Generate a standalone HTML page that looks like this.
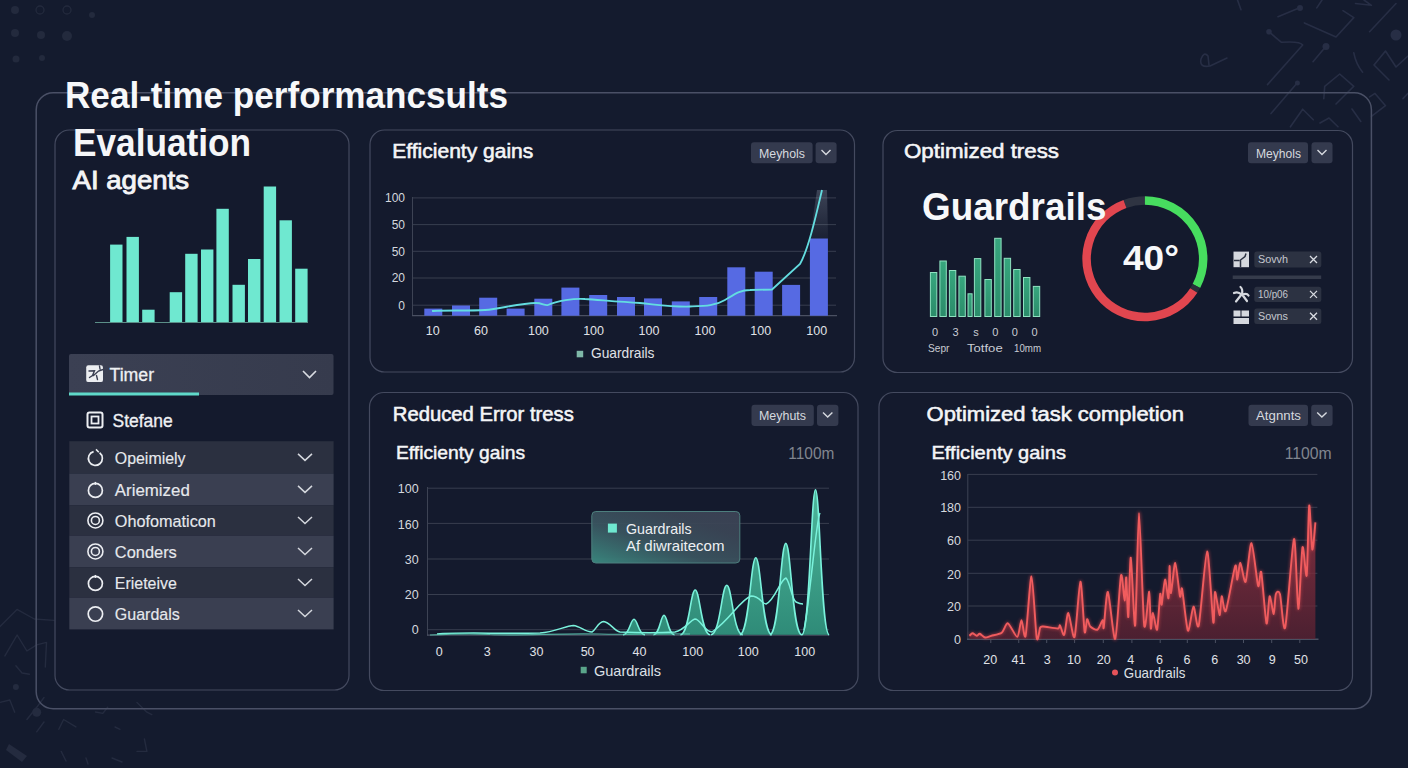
<!DOCTYPE html>
<html><head><meta charset="utf-8"><title>Real-time performance results</title>
<style>
html,body{margin:0;padding:0;background:#141b2e;width:1408px;height:768px;overflow:hidden}
.page{position:relative;width:1408px;height:768px;background:#141b2e}
svg{position:absolute;left:0;top:0;font-family:"Liberation Sans",sans-serif}
</style></head><body><div class="page">
<svg width="1408" height="768" viewBox="0 0 1408 768">
<circle cx="15" cy="10" r="4" fill="#232a3d"/>
<circle cx="40" cy="10" r="4" fill="none" stroke="#232a3d" stroke-width="1.3"/>
<circle cx="67" cy="10" r="4" fill="none" stroke="#232a3d" stroke-width="1.3"/>
<circle cx="92" cy="15" r="3" fill="#232a3d"/>
<circle cx="15" cy="33" r="4" fill="#232a3d"/>
<circle cx="41" cy="35" r="4" fill="#232a3d"/>
<circle cx="67" cy="36" r="5" fill="#232a3d"/>
<circle cx="16" cy="59" r="3.5" fill="#232a3d"/>
<circle cx="42" cy="58" r="3" fill="#232a3d"/>
<path d="M1278 16.7 L1299 8 M1237.5 0 L1241 9.7 M1227 58 L1210 66 Q1199 68 1201 59 Q1204 51 1208 56 L1209 65 M1269 31.7 Q1276 38 1281.5 42.3 Q1300 41 1302.7 45 L1267.5 84.6 M1304.4 22.9 L1336 37 L1353.8 17.6 L1343 10.6 M1325.6 46.7 L1313 61.7 M1396 3.5 L1369.6 31.7 M1353.8 52.8 Q1356 64 1362.6 72.2 M1389 80 L1374 65 L1385.5 51 L1396 67 L1408 56 M1323.8 98.6 L1324.7 86.3 L1339.7 74 L1353.8 86.3 L1336 104 M1297.4 82.8 L1271 113.6 M1290.4 126.8 L1302.7 109.2 L1313.3 119.8 M1320 123 L1329 118 L1338 126.8 M1352 109 L1360.8 121.5 M1369.6 96.9 L1375 93.4 L1385.5 105.7 L1371.4 116.3 M1403 98.6 L1408 93.4 M1355.5 3.5 L1371.4 5.3 L1364 0 M1316.8 7.9 L1322 0" fill="none" stroke="#272e45" stroke-width="1.6" stroke-linecap="round" stroke-linejoin="round"/>
<circle cx="1300" cy="8" r="3" fill="#272e45"/>
<circle cx="1269" cy="31.7" r="2.8" fill="#272e45"/>
<circle cx="1326" cy="46.5" r="3.5" fill="#272e45"/>
<circle cx="1396" cy="35" r="5.5" fill="#272e45"/>
<circle cx="1297.4" cy="83" r="2.5" fill="#272e45"/>
<path d="M0 626.5 L17 609.4 L34.3 619 L53.9 620.4 M4.9 655.9 L17.1 635 L26.9 651 L36.7 644.9 L46.5 642.4 L45.3 667 M15.9 665.7 L22 673 L29.4 674.2 M0 702.4 L9.8 700 L14.7 712.2 M26.9 719.5 L36.7 707.3 L44 697.5 M36.7 731.8 L44 722 M58.8 729.3 L63.6 719.5 L75.9 726.9 M95.5 712 L102.8 713.4 L107.7 707.3 M115 727 L120 729.3 M137 702.4 L146.9 712.2 L151.8 714.6 M144.4 739 L146.9 751.4 L137 751.4 M61.2 751.4 L66 761 M86 758 L88 764 M112 758 L122 762" fill="none" stroke="#242b3f" stroke-width="1.4" stroke-linecap="round" stroke-linejoin="round"/>
<circle cx="15.9" cy="687" r="3" fill="#242b3f"/>
<circle cx="36.7" cy="712.2" r="4.5" fill="#242b3f"/>
<path d="M9 744 L27 756 L22 762 L6 750 Z" fill="#242b3f"/>
<rect x="36.2" y="92.8" width="1335.2" height="616" rx="17" fill="none" stroke="#4a5066" stroke-width="1.5"/>
<rect x="55" y="130" width="294" height="560" rx="14.5" fill="#141a2d" stroke="#444a5f" stroke-width="1.2"/>
<rect x="370" y="130" width="484.5" height="242" rx="14.5" fill="#141a2d" stroke="#444a5f" stroke-width="1.2"/>
<rect x="883" y="130.5" width="469.5" height="242.0" rx="14.5" fill="#141a2d" stroke="#444a5f" stroke-width="1.2"/>
<rect x="369.5" y="392.5" width="488.5" height="298.0" rx="14.5" fill="#141a2d" stroke="#444a5f" stroke-width="1.2"/>
<rect x="879" y="392.5" width="473.5" height="298.0" rx="14.5" fill="#141a2d" stroke="#444a5f" stroke-width="1.2"/>
<text x="65" y="107.5" font-size="37.5" font-weight="bold" fill="#f7f8fa" text-anchor="start" textLength="443" lengthAdjust="spacingAndGlyphs" >Real-time performancsults</text>
<text x="73" y="155.5" font-size="38" font-weight="bold" fill="#f5f6f8" text-anchor="start" textLength="178" lengthAdjust="spacingAndGlyphs" >Evaluation</text>
<text x="72.5" y="189" font-size="26.5" font-weight="normal" fill="#f3f4f6" text-anchor="start" textLength="116.5" lengthAdjust="spacingAndGlyphs" stroke="#f3f4f6" stroke-width="0.9">AI agents</text>
<line x1="95" y1="322.5" x2="308" y2="322.5" stroke="#5b8f88" stroke-width="1"/>
<rect x="110.1" y="244.6" width="12.4" height="77.4" fill="#6fe8d0"/>
<rect x="126.5" y="236.9" width="12.4" height="85.1" fill="#6fe8d0"/>
<rect x="142.2" y="309.7" width="12.4" height="12.300000000000011" fill="#6fe8d0"/>
<rect x="169.7" y="292.2" width="12.4" height="29.80000000000001" fill="#6fe8d0"/>
<rect x="185.2" y="253.8" width="12.4" height="68.19999999999999" fill="#6fe8d0"/>
<rect x="201" y="249.5" width="12.4" height="72.5" fill="#6fe8d0"/>
<rect x="216.4" y="208.8" width="12.4" height="113.19999999999999" fill="#6fe8d0"/>
<rect x="232.5" y="284.8" width="12.4" height="37.19999999999999" fill="#6fe8d0"/>
<rect x="248" y="259" width="12.4" height="63" fill="#6fe8d0"/>
<rect x="263.7" y="186.5" width="12.4" height="135.5" fill="#6fe8d0"/>
<rect x="279.5" y="220.3" width="12.4" height="101.69999999999999" fill="#6fe8d0"/>
<rect x="295.2" y="268.7" width="12.4" height="53.30000000000001" fill="#6fe8d0"/>
<defs><linearGradient id="tg" x1="0" x2="1"><stop offset="0" stop-color="#3b4053"/><stop offset="1" stop-color="#363b4d"/></linearGradient></defs>
<rect x="69" y="354" width="264.5" height="41" rx="2" fill="url(#tg)"/>
<rect x="69" y="392.5" width="130" height="3" fill="#5fd9c9"/>
<rect x="86.2" y="365.3" width="16.8" height="16.8" rx="2.2" fill="#eceef1"/><path d="M89 371 L94.5 370.8 L92.5 375.5 L89.5 377.5 M93.5 375.5 L98.5 371 L103 369.5 M96.5 375.5 L97.5 379.5 M99.5 366 L100 369" stroke="#3a3f52" stroke-width="1.4" fill="none" stroke-linecap="round"/>
<text x="109.5" y="380.5" font-size="17.5" font-weight="normal" fill="#eef0f3" text-anchor="start" textLength="44.6" lengthAdjust="spacingAndGlyphs" stroke="#eef0f3" stroke-width="0.3">Timer</text>
<path d="M303 371 L309.5 377.5 L316 371" fill="none" stroke="#d9dce2" stroke-width="1.6"/>
<rect x="87.5" y="412.5" width="15" height="15" rx="2" fill="none" stroke="#eceef2" stroke-width="2"/><rect x="91.5" y="416.5" width="7" height="7" fill="none" stroke="#eceef2" stroke-width="1.8"/>
<text x="112.5" y="427" font-size="18.5" font-weight="normal" fill="#eef0f3" text-anchor="start" textLength="60.2" lengthAdjust="spacingAndGlyphs" stroke="#eef0f3" stroke-width="0.35">Stefane</text>
<rect x="69.3" y="441.2" width="264.3" height="32.400000000000034" fill="#2b3040"/>
<path d="M99.6 452.79999999999995 A7 7 0 1 1 93.6 451.59999999999997" fill="none" stroke="#eceef2" stroke-width="1.7"/><path d="M96 449.4 L98.8 452.2" stroke="#eceef2" stroke-width="1.5"/>
<text x="114.8" y="463.7" font-size="17" font-weight="normal" fill="#e6e8ec" text-anchor="start" textLength="70.7" lengthAdjust="spacingAndGlyphs" stroke="#e6e8ec" stroke-width="0.15">Opeimiely</text>
<path d="M298 453.9 L305 460.4 L312 453.9" fill="none" stroke="#d4d7dd" stroke-width="1.5"/>
<rect x="69.3" y="473.6" width="264.3" height="31.599999999999966" fill="#3a3f51"/>
<circle cx="95.4" cy="490.4" r="7" fill="none" stroke="#eceef2" stroke-width="1.7"/><path d="M95.4 481.9 L95.4 484.9" stroke="#eceef2" stroke-width="1.5"/>
<text x="114.8" y="495.7" font-size="17" font-weight="normal" fill="#e6e8ec" text-anchor="start" textLength="75" lengthAdjust="spacingAndGlyphs" stroke="#e6e8ec" stroke-width="0.15">Ariemized</text>
<path d="M298 485.9 L305 492.4 L312 485.9" fill="none" stroke="#d4d7dd" stroke-width="1.5"/>
<rect x="69.3" y="505.2" width="264.3" height="30.500000000000057" fill="#2b3040"/>
<circle cx="95.4" cy="520.45" r="7.5" fill="none" stroke="#eceef2" stroke-width="1.6"/><circle cx="95.4" cy="520.45" r="4" fill="none" stroke="#eceef2" stroke-width="1.6"/>
<text x="114.8" y="526.75" font-size="17" font-weight="normal" fill="#e6e8ec" text-anchor="start" textLength="101" lengthAdjust="spacingAndGlyphs" stroke="#e6e8ec" stroke-width="0.15">Ohofomaticon</text>
<path d="M298 516.95 L305 523.45 L312 516.95" fill="none" stroke="#d4d7dd" stroke-width="1.5"/>
<rect x="69.3" y="535.7" width="264.3" height="31.5" fill="#3a3f51"/>
<circle cx="95.4" cy="551.45" r="7.5" fill="none" stroke="#eceef2" stroke-width="1.6"/><circle cx="95.4" cy="551.45" r="4" fill="none" stroke="#eceef2" stroke-width="1.6"/>
<text x="114.8" y="557.75" font-size="17" font-weight="normal" fill="#e6e8ec" text-anchor="start" textLength="62" lengthAdjust="spacingAndGlyphs" stroke="#e6e8ec" stroke-width="0.15">Conders</text>
<path d="M298 547.95 L305 554.45 L312 547.95" fill="none" stroke="#d4d7dd" stroke-width="1.5"/>
<rect x="69.3" y="567.2" width="264.3" height="30.5" fill="#2b3040"/>
<circle cx="95.4" cy="583.45" r="7" fill="none" stroke="#eceef2" stroke-width="1.7"/><path d="M95.4 574.95 L95.4 577.95" stroke="#eceef2" stroke-width="1.5"/>
<text x="114.8" y="588.75" font-size="17" font-weight="normal" fill="#e6e8ec" text-anchor="start" textLength="62" lengthAdjust="spacingAndGlyphs" stroke="#e6e8ec" stroke-width="0.15">Erieteive</text>
<path d="M298 578.95 L305 585.45 L312 578.95" fill="none" stroke="#d4d7dd" stroke-width="1.5"/>
<rect x="69.3" y="597.7" width="264.3" height="31.699999999999932" fill="#3a3f51"/>
<circle cx="95.4" cy="614.05" r="7.2" fill="none" stroke="#eceef2" stroke-width="1.7"/>
<text x="114.8" y="619.8499999999999" font-size="17" font-weight="normal" fill="#e6e8ec" text-anchor="start" textLength="65" lengthAdjust="spacingAndGlyphs" stroke="#e6e8ec" stroke-width="0.15">Guardals</text>
<path d="M298 610.05 L305 616.55 L312 610.05" fill="none" stroke="#d4d7dd" stroke-width="1.5"/>
<text x="392.3" y="157.8" font-size="19.5" font-weight="normal" fill="#f4f5f7" text-anchor="start" textLength="141" lengthAdjust="spacingAndGlyphs" stroke="#f4f5f7" stroke-width="0.55">Efficienty gains</text>
<rect x="751" y="142.3" width="61.6" height="21" rx="3" fill="#343a4e"/><rect x="815.6" y="142.3" width="21" height="21" rx="3" fill="#343a4e"/>
<text x="759" y="157.5" font-size="12.5" fill="#d6d9df" textLength="46" lengthAdjust="spacingAndGlyphs">Meyhols</text>
<path d="M821.5 150 L826 154.5 L830.5 150" fill="none" stroke="#d6d9df" stroke-width="1.4"/>
<line x1="412.5" y1="197.9" x2="836" y2="197.9" stroke="#383e4f" stroke-width="1"/>
<line x1="412.5" y1="224.6" x2="836" y2="224.6" stroke="#383e4f" stroke-width="1"/>
<line x1="412.5" y1="251.3" x2="836" y2="251.3" stroke="#383e4f" stroke-width="1"/>
<line x1="412.5" y1="278" x2="836" y2="278" stroke="#383e4f" stroke-width="1"/>
<line x1="412.5" y1="305.2" x2="836" y2="305.2" stroke="#383e4f" stroke-width="1"/>
<line x1="412.5" y1="197" x2="412.5" y2="316" stroke="#3d4354" stroke-width="1"/><line x1="412" y1="315.7" x2="837" y2="315.7" stroke="#4a5062" stroke-width="1.2"/>
<text x="405" y="202.20000000000002" font-size="12" fill="#d5d8de" text-anchor="end">100</text>
<text x="405" y="228.9" font-size="12" fill="#d5d8de" text-anchor="end">50</text>
<text x="405" y="255.60000000000002" font-size="12" fill="#d5d8de" text-anchor="end">50</text>
<text x="405" y="282.3" font-size="12" fill="#d5d8de" text-anchor="end">20</text>
<text x="405" y="309.5" font-size="12" fill="#d5d8de" text-anchor="end">0</text>
<rect x="424.3" y="308.6" width="18" height="7.099999999999966" fill="#566ae3"/>
<rect x="452" y="305.5" width="18" height="10.199999999999989" fill="#566ae3"/>
<rect x="479.2" y="297.7" width="18" height="18.0" fill="#566ae3"/>
<rect x="506.6" y="308.6" width="18" height="7.099999999999966" fill="#566ae3"/>
<rect x="534.3" y="298.7" width="18" height="17.0" fill="#566ae3"/>
<rect x="561.4" y="287.6" width="18" height="28.099999999999966" fill="#566ae3"/>
<rect x="589.2" y="295" width="18" height="20.69999999999999" fill="#566ae3"/>
<rect x="617" y="297" width="18" height="18.69999999999999" fill="#566ae3"/>
<rect x="644" y="298.4" width="18" height="17.30000000000001" fill="#566ae3"/>
<rect x="671.8" y="301.4" width="18" height="14.300000000000011" fill="#566ae3"/>
<rect x="699.2" y="297" width="18" height="18.69999999999999" fill="#566ae3"/>
<rect x="727.3" y="267.3" width="18" height="48.39999999999998" fill="#566ae3"/>
<rect x="754.7" y="271.7" width="18" height="44.0" fill="#566ae3"/>
<rect x="782.1" y="284.9" width="18" height="30.80000000000001" fill="#566ae3"/>
<rect x="809.9" y="238.5" width="18" height="77.19999999999999" fill="#566ae3"/>
<defs><linearGradient id="glw" x1="0" y1="0" x2="0" y2="1"><stop offset="0" stop-color="#9aa3b5" stop-opacity="0.30"/><stop offset="1" stop-color="#9aa3b5" stop-opacity="0.05"/></linearGradient></defs>
<polygon points="817,190 827,190 828,238.5 810,238.5" fill="url(#glw)"/>
<path d="M432 311 C440 310 470 311 485 310 C500 309 520 303 536 303 C542 303 545 306 548 305 C556 301 575 298 585 299 C600 300 620 302 640 303 C660 305 672 307 690 306.5 C705 306 715 306 725 300 C735 294 740 290 750 290 L772 289.5 L800 264 C808 250 815 220 822 190" fill="none" stroke="#63dde0" stroke-width="1.8"/>
<text x="432.8" y="335.3" font-size="12.5" fill="#e0e2e7" text-anchor="middle">10</text>
<text x="480.9" y="335.3" font-size="12.5" fill="#e0e2e7" text-anchor="middle">60</text>
<text x="538.4" y="335.3" font-size="12.5" fill="#e0e2e7" text-anchor="middle">100</text>
<text x="593.6" y="335.3" font-size="12.5" fill="#e0e2e7" text-anchor="middle">100</text>
<text x="649" y="335.3" font-size="12.5" fill="#e0e2e7" text-anchor="middle">100</text>
<text x="705" y="335.3" font-size="12.5" fill="#e0e2e7" text-anchor="middle">100</text>
<text x="760.8" y="335.3" font-size="12.5" fill="#e0e2e7" text-anchor="middle">100</text>
<text x="816.7" y="335.3" font-size="12.5" fill="#e0e2e7" text-anchor="middle">100</text>
<rect x="576.7" y="350.8" width="6.5" height="6.5" fill="#7fb8a8"/>
<text x="591" y="358.3" font-size="14.3" font-weight="normal" fill="#e0e2e7" text-anchor="start" textLength="63.5" lengthAdjust="spacingAndGlyphs" >Guardrails</text>
<text x="904" y="158" font-size="19.5" font-weight="normal" fill="#f4f5f7" text-anchor="start" textLength="155" lengthAdjust="spacingAndGlyphs" stroke="#f4f5f7" stroke-width="0.55">Optimized tress</text>
<rect x="1248" y="142.3" width="60" height="21" rx="3" fill="#343a4e"/><rect x="1311.5" y="142.3" width="21" height="21" rx="3" fill="#343a4e"/>
<text x="1256" y="157.5" font-size="12.5" fill="#d6d9df" textLength="45" lengthAdjust="spacingAndGlyphs">Meyhols</text>
<path d="M1317.5 150 L1322 154.5 L1326.5 150" fill="none" stroke="#d6d9df" stroke-width="1.4"/>
<defs><linearGradient id="gg" x1="0" y1="0" x2="0" y2="1"><stop offset="0" stop-color="#37a67e"/><stop offset="1" stop-color="#2b8c6a"/></linearGradient></defs>
<rect x="930.4" y="272.5" width="6.4" height="44" fill="url(#gg)" stroke="#8fe2c0" stroke-width="1"/>
<rect x="939.9" y="261.0" width="6.4" height="55.5" fill="url(#gg)" stroke="#8fe2c0" stroke-width="1"/>
<rect x="949.4" y="270.5" width="6.4" height="46" fill="url(#gg)" stroke="#8fe2c0" stroke-width="1"/>
<rect x="958.9" y="276.2" width="6.4" height="40.30000000000001" fill="url(#gg)" stroke="#8fe2c0" stroke-width="1"/>
<rect x="968.0" y="293.8" width="4.1" height="22.69999999999999" fill="url(#gg)" stroke="#8fe2c0" stroke-width="1"/>
<rect x="974.4" y="258.6" width="6.4" height="57.89999999999998" fill="url(#gg)" stroke="#8fe2c0" stroke-width="1"/>
<rect x="984.9" y="279.5" width="6.4" height="37" fill="url(#gg)" stroke="#8fe2c0" stroke-width="1"/>
<rect x="994.7" y="238.3" width="6.4" height="78.19999999999999" fill="url(#gg)" stroke="#8fe2c0" stroke-width="1"/>
<rect x="1004.2" y="258.3" width="6.4" height="58.19999999999999" fill="url(#gg)" stroke="#8fe2c0" stroke-width="1"/>
<rect x="1013.7" y="269.5" width="6.4" height="47" fill="url(#gg)" stroke="#8fe2c0" stroke-width="1"/>
<rect x="1023.5" y="277.5" width="6.4" height="39" fill="url(#gg)" stroke="#8fe2c0" stroke-width="1"/>
<rect x="1033.3" y="286.4" width="6.4" height="30.100000000000023" fill="url(#gg)" stroke="#8fe2c0" stroke-width="1"/>
<text x="935" y="335.5" font-size="11" fill="#c9ccd3" text-anchor="middle">0</text>
<text x="955.6" y="335.5" font-size="11" fill="#c9ccd3" text-anchor="middle">3</text>
<text x="976" y="335.5" font-size="11" fill="#c9ccd3" text-anchor="middle">s</text>
<text x="995.3" y="335.5" font-size="11" fill="#c9ccd3" text-anchor="middle">0</text>
<text x="1014.9" y="335.5" font-size="11" fill="#c9ccd3" text-anchor="middle">0</text>
<text x="1034.5" y="335.5" font-size="11" fill="#c9ccd3" text-anchor="middle">0</text>
<text x="928" y="352" font-size="11.5" fill="#c9ccd3" textLength="21.5" lengthAdjust="spacingAndGlyphs">Sepr</text>
<text x="967" y="352" font-size="11.5" fill="#c9ccd3" textLength="35.7" lengthAdjust="spacingAndGlyphs">Totfoe</text>
<text x="1014" y="352" font-size="11.5" fill="#c9ccd3" textLength="27" lengthAdjust="spacingAndGlyphs">10mm</text>
<path d="M1124.96 203.92 A58.3 58.3 0 0 1 1144.90 200.40" fill="none" stroke="#2f3442" stroke-width="8.5"/>
<path d="M1144.90 200.40 A58.3 58.3 0 0 1 1196.38 286.07" fill="none" stroke="#47dd5f" stroke-width="8.5"/>
<path d="M1196.38 286.07 A58.3 58.3 0 0 1 1193.79 290.45" fill="none" stroke="#2a2f3a" stroke-width="8.5"/>
<path d="M1193.79 290.45 A58.3 58.3 0 1 1 1124.96 203.92" fill="none" stroke="#e1464f" stroke-width="8.5"/>
<text x="922" y="219.5" font-size="38.3" font-weight="bold" fill="#f7f8fa" text-anchor="start" textLength="184.5" lengthAdjust="spacingAndGlyphs" >Guardrails</text>
<text x="1123" y="270" font-size="35.5" font-weight="bold" fill="#f7f8fa" text-anchor="start" textLength="56" lengthAdjust="spacingAndGlyphs" >40°</text>
<rect x="1254.3" y="251.6" width="67" height="15.900000000000006" rx="2.5" fill="#2c3242"/>
<text x="1258" y="263.3" font-size="11" fill="#c5c8cf" textLength="30" lengthAdjust="spacingAndGlyphs">Sovvh</text>
<path d="M1310.0 256.05 L1317.0 263.05 M1317.0 256.05 L1310.0 263.05" stroke="#d9dce2" stroke-width="1.3"/>
<rect x="1254.3" y="286.7" width="67" height="15.300000000000011" rx="2.5" fill="#2c3242"/>
<text x="1258" y="297.8" font-size="11" fill="#c5c8cf" textLength="30" lengthAdjust="spacingAndGlyphs">10/p06</text>
<path d="M1310.0 290.85 L1317.0 297.85 M1317.0 290.85 L1310.0 297.85" stroke="#d9dce2" stroke-width="1.3"/>
<rect x="1254.3" y="308.4" width="67" height="15.600000000000023" rx="2.5" fill="#2c3242"/>
<text x="1258" y="319.8" font-size="11" fill="#c5c8cf" textLength="30" lengthAdjust="spacingAndGlyphs">Sovns</text>
<path d="M1310.0 312.7 L1317.0 319.7 M1317.0 312.7 L1310.0 319.7" stroke="#d9dce2" stroke-width="1.3"/>
<rect x="1232.7" y="275.5" width="88.5" height="3.5" fill="#353b4b"/>
<g fill="#d5d8de"><rect x="1233.5" y="251.6" width="15.5" height="15.6"/></g><path d="M1234 260.5 L1239.5 260.5 M1240.5 267 L1240.5 260 L1245 256.5 L1246 253.5" stroke="#2c3242" stroke-width="1.5" fill="none"/>
<path d="M1234 293 Q1238 291 1241.5 294.5 M1242 294 Q1243 289 1240.5 287 M1242.5 294.5 Q1247 293 1248.5 295.5 M1241.5 294.5 L1236 301.5 M1242.5 295 L1247 301" stroke="#d5d8de" stroke-width="2.2" fill="none" stroke-linecap="round"/>
<g fill="#d5d8de"><rect x="1233.5" y="310.5" width="7" height="6"/><rect x="1241.5" y="310.5" width="7.5" height="6"/><rect x="1233.5" y="318" width="15.5" height="6"/></g>
<text x="392.8" y="420.5" font-size="20" font-weight="normal" fill="#f4f5f7" text-anchor="start" textLength="181" lengthAdjust="spacingAndGlyphs" stroke="#f4f5f7" stroke-width="0.55">Reduced Error tress</text>
<rect x="751.5" y="404.7" width="62.3" height="21.3" rx="3" fill="#343a4e"/><rect x="817" y="404.7" width="21.4" height="21.3" rx="3" fill="#343a4e"/>
<text x="759" y="420" font-size="12.5" fill="#d6d9df" textLength="47" lengthAdjust="spacingAndGlyphs">Meyhuts</text>
<path d="M823 412.5 L827.7 417 L832.4 412.5" fill="none" stroke="#d6d9df" stroke-width="1.4"/>
<text x="396" y="458.8" font-size="18.5" font-weight="normal" fill="#f4f5f7" text-anchor="start" textLength="129" lengthAdjust="spacingAndGlyphs" stroke="#f4f5f7" stroke-width="0.45">Efficienty gains</text>
<text x="834.3" y="458.6" font-size="17" font-weight="normal" fill="#80858f" text-anchor="end" textLength="46" lengthAdjust="spacingAndGlyphs" >1100m</text>
<line x1="427.5" y1="488.2" x2="829" y2="488.2" stroke="#383e4f" stroke-width="1"/>
<line x1="427.5" y1="523.4" x2="829" y2="523.4" stroke="#383e4f" stroke-width="1"/>
<line x1="427.5" y1="559" x2="829" y2="559" stroke="#383e4f" stroke-width="1"/>
<line x1="427.5" y1="594.5" x2="829" y2="594.5" stroke="#383e4f" stroke-width="1"/>
<line x1="427.5" y1="629.7" x2="829" y2="629.7" stroke="#383e4f" stroke-width="1"/>
<line x1="427.5" y1="487" x2="427.5" y2="635.5" stroke="#3d4354" stroke-width="1"/><line x1="427" y1="635.2" x2="829" y2="635.2" stroke="#4a5062" stroke-width="1.2"/>
<text x="418.7" y="493.1" font-size="12.5" fill="#d5d8de" text-anchor="end">100</text>
<text x="418.7" y="528.8" font-size="12.5" fill="#d5d8de" text-anchor="end">160</text>
<text x="418.7" y="563.5999999999999" font-size="12.5" fill="#d5d8de" text-anchor="end">30</text>
<text x="418.7" y="599.3" font-size="12.5" fill="#d5d8de" text-anchor="end">20</text>
<text x="418.7" y="634.1999999999999" font-size="12.5" fill="#d5d8de" text-anchor="end">0</text>
<defs><linearGradient id="tl" x1="0" y1="0" x2="0" y2="1"><stop offset="0" stop-color="#4db79b"/><stop offset="1" stop-color="#2f8b78"/></linearGradient></defs>
<path d="M623.0 634.7 C629.5 634.7 630.5 619.2 634.0 619.2 C637.5 619.2 638.5 634.7 645.0 634.7 Z M653.5 634.7 C659.7 634.7 660.7 615.3 664.0 615.3 C667.3 615.3 668.3 634.7 674.5 634.7 Z M680.4 634.7 C689.1 634.7 690.5 590.0 695.2 590.0 C699.9 590.0 701.3 634.7 710.1 634.7 Z M710.8 634.7 C720.3 634.7 721.7 585.3 726.8 585.3 C731.9 585.3 733.3 634.7 742.8 634.7 Z M739.8 634.7 C749.3 634.7 750.7 557.8 755.8 557.8 C760.9 557.8 762.3 634.7 771.8 634.7 Z M769.8 634.7 C779.3 634.7 780.7 543.4 785.8 543.4 C790.9 543.4 792.3 634.7 801.8 634.7 Z M801.8 634.7 C809.9 634.7 811.1 489.7 815.5 489.7 C819.9 489.7 821.1 634.7 829.2 634.7 Z " fill="url(#tl)"/>
<path d="M623.0 634.7 C629.5 634.7 630.5 619.2 634.0 619.2 C637.5 619.2 638.5 634.7 645.0 634.7 M653.5 634.7 C659.7 634.7 660.7 615.3 664.0 615.3 C667.3 615.3 668.3 634.7 674.5 634.7 M680.4 634.7 C689.1 634.7 690.5 590.0 695.2 590.0 C699.9 590.0 701.3 634.7 710.1 634.7 M710.8 634.7 C720.3 634.7 721.7 585.3 726.8 585.3 C731.9 585.3 733.3 634.7 742.8 634.7 M739.8 634.7 C749.3 634.7 750.7 557.8 755.8 557.8 C760.9 557.8 762.3 634.7 771.8 634.7 M769.8 634.7 C779.3 634.7 780.7 543.4 785.8 543.4 C790.9 543.4 792.3 634.7 801.8 634.7 M801.8 634.7 C809.9 634.7 811.1 489.7 815.5 489.7 C819.9 489.7 821.1 634.7 829.2 634.7 " fill="none" stroke="#7af2dc" stroke-width="1.6"/>
<path d="M437 634 C460 632 500 634 540 633 C555 632 565 626 573.5 625.5 C580 626 585 632 592 632 C596 630 598 622 603.5 621.5 C610 622 614 631 620 632 C640 633 660 633 675 632 C685 630 690 620 695 619 C700 619 705 632 712 632 C730 620 740 600 751 596 C760 596 762 604 766 604 C775 600 780 580 786 578 C790 582 792 600 796 602 C800 604 802 604 803 604 M804 630 C810 600 816 520 820 513" fill="none" stroke="#7af2dc" stroke-width="1.5"/>
<path d="M430 635 C450 634 470 633 490 634.5 C520 636 560 633 600 634 C630 635 660 633 690 634" fill="none" stroke="#5fcfb8" stroke-width="1.2" opacity="0.8"/>
<text x="439.2" y="656" font-size="12.5" fill="#e0e2e7" text-anchor="middle">0</text>
<text x="487.2" y="656" font-size="12.5" fill="#e0e2e7" text-anchor="middle">3</text>
<text x="536.4" y="656" font-size="12.5" fill="#e0e2e7" text-anchor="middle">30</text>
<text x="587.6" y="656" font-size="12.5" fill="#e0e2e7" text-anchor="middle">50</text>
<text x="639.5" y="656" font-size="12.5" fill="#e0e2e7" text-anchor="middle">40</text>
<text x="692.8" y="656" font-size="12.5" fill="#e0e2e7" text-anchor="middle">100</text>
<text x="748.2" y="656" font-size="12.5" fill="#e0e2e7" text-anchor="middle">100</text>
<text x="804.8" y="656" font-size="12.5" fill="#e0e2e7" text-anchor="middle">100</text>
<rect x="580.7" y="666.8" width="6" height="6.5" fill="#5aa58a"/>
<text x="594" y="675.5" font-size="14.5" font-weight="normal" fill="#dde0e5" text-anchor="start" textLength="67" lengthAdjust="spacingAndGlyphs" >Guardrails</text>
<defs><linearGradient id="tt" x1="0" y1="1" x2="1" y2="0"><stop offset="0" stop-color="#3a8a80" stop-opacity="0.95"/><stop offset="0.4" stop-color="#3a5560" stop-opacity="0.93"/><stop offset="0.75" stop-color="#3b4656" stop-opacity="0.93"/><stop offset="1" stop-color="#3c4255" stop-opacity="0.95"/></linearGradient></defs>
<rect x="591.8" y="511.5" width="148" height="51.5" rx="4" fill="url(#tt)" stroke="#4d7f7e" stroke-width="1"/>
<rect x="607.9" y="523.6" width="9" height="9" fill="#6fe8d0"/>
<text x="626" y="533.5" font-size="14.5" font-weight="normal" fill="#eef0f3" text-anchor="start" textLength="65.6" lengthAdjust="spacingAndGlyphs" >Guardrails</text>
<text x="626" y="551" font-size="14.5" font-weight="normal" fill="#eef0f3" text-anchor="start" textLength="98.4" lengthAdjust="spacingAndGlyphs" >Af diwraitecom</text>
<text x="926.6" y="420.5" font-size="20" font-weight="normal" fill="#f4f5f7" text-anchor="start" textLength="257.4" lengthAdjust="spacingAndGlyphs" stroke="#f4f5f7" stroke-width="0.55">Optimized task completion</text>
<rect x="1248.5" y="404.7" width="59.5" height="21.3" rx="3" fill="#343a4e"/><rect x="1311.2" y="404.7" width="21.4" height="21.3" rx="3" fill="#343a4e"/>
<text x="1256" y="420" font-size="12.5" fill="#d6d9df" textLength="45" lengthAdjust="spacingAndGlyphs">Atgnnts</text>
<path d="M1317.2 412.5 L1321.9 417 L1326.6 412.5" fill="none" stroke="#d6d9df" stroke-width="1.4"/>
<text x="931.5" y="458.8" font-size="18.5" font-weight="normal" fill="#f4f5f7" text-anchor="start" textLength="134.5" lengthAdjust="spacingAndGlyphs" stroke="#f4f5f7" stroke-width="0.45">Efficienty gains</text>
<text x="1331.7" y="458.6" font-size="17" font-weight="normal" fill="#80858f" text-anchor="end" textLength="47" lengthAdjust="spacingAndGlyphs" >1100m</text>
<line x1="967.8" y1="474.4" x2="1317.4" y2="474.4" stroke="#383e4f" stroke-width="1"/>
<line x1="967.8" y1="507.3" x2="1317.4" y2="507.3" stroke="#383e4f" stroke-width="1"/>
<line x1="967.8" y1="540.2" x2="1317.4" y2="540.2" stroke="#383e4f" stroke-width="1"/>
<line x1="967.8" y1="573.3" x2="1317.4" y2="573.3" stroke="#383e4f" stroke-width="1"/>
<line x1="967.8" y1="606" x2="1317.4" y2="606" stroke="#383e4f" stroke-width="1"/>
<line x1="967.8" y1="474" x2="967.8" y2="639.5" stroke="#3d4354" stroke-width="1"/><line x1="967" y1="639.2" x2="1318.5" y2="639.2" stroke="#4a5062" stroke-width="1.4"/>
<line x1="990.8" y1="639" x2="990.8" y2="643" stroke="#4a5062" stroke-width="1"/>
<line x1="1018.75" y1="639" x2="1018.75" y2="643" stroke="#4a5062" stroke-width="1"/>
<line x1="1046.7" y1="639" x2="1046.7" y2="643" stroke="#4a5062" stroke-width="1"/>
<line x1="1074.6" y1="639" x2="1074.6" y2="643" stroke="#4a5062" stroke-width="1"/>
<line x1="1103.3" y1="639" x2="1103.3" y2="643" stroke="#4a5062" stroke-width="1"/>
<line x1="1131.9" y1="639" x2="1131.9" y2="643" stroke="#4a5062" stroke-width="1"/>
<line x1="1160.2" y1="639" x2="1160.2" y2="643" stroke="#4a5062" stroke-width="1"/>
<line x1="1187.3" y1="639" x2="1187.3" y2="643" stroke="#4a5062" stroke-width="1"/>
<line x1="1215.4" y1="639" x2="1215.4" y2="643" stroke="#4a5062" stroke-width="1"/>
<line x1="1243.5" y1="639" x2="1243.5" y2="643" stroke="#4a5062" stroke-width="1"/>
<line x1="1271.7" y1="639" x2="1271.7" y2="643" stroke="#4a5062" stroke-width="1"/>
<line x1="1299.8" y1="639" x2="1299.8" y2="643" stroke="#4a5062" stroke-width="1"/>
<text x="961" y="479.5" font-size="12.5" fill="#d5d8de" text-anchor="end">160</text>
<text x="961" y="512.3" font-size="12.5" fill="#d5d8de" text-anchor="end">180</text>
<text x="961" y="545.1999999999999" font-size="12.5" fill="#d5d8de" text-anchor="end">60</text>
<text x="961" y="578.8" font-size="12.5" fill="#d5d8de" text-anchor="end">20</text>
<text x="961" y="610.8" font-size="12.5" fill="#d5d8de" text-anchor="end">20</text>
<text x="961" y="644.3" font-size="12.5" fill="#d5d8de" text-anchor="end">0</text>
<defs><linearGradient id="rg" x1="0" y1="0" x2="0" y2="1"><stop offset="0" stop-color="#a03545" stop-opacity="0.8"/><stop offset="1" stop-color="#5e2232" stop-opacity="0.75"/></linearGradient><filter id="rglow" x="-5%" y="-5%" width="110%" height="110%"><feGaussianBlur stdDeviation="1.5"/></filter></defs>
<path d="M969.4,635.8 C969.8,635.5 971.6,633.3 972.5,633.3 C973.4,633.3 975.8,635.7 976.7,635.8 C977.6,635.9 978.7,633.5 979.8,633.75 C980.9,634.0 983.5,637.2 985,637.5 C986.5,637.8 989.1,636.4 991.25,635.8 C993.4,635.2 999.6,634.3 1001.7,632.7 C1003.8,631.1 1005.9,622.8 1007.9,623.3 C1009.9,623.8 1015.6,637.3 1017.3,636.9 C1019.0,636.5 1020.4,620.3 1021.5,620.2 C1022.6,620.1 1024.3,641.3 1025.6,635.8 C1026.9,630.3 1030.1,576.2 1031.5,576.5 C1032.9,576.8 1035.6,631.4 1036.7,637.9 C1037.8,644.4 1039.4,628.9 1040.2,627.5 C1041.0,626.1 1041.1,626.4 1043.3,626.5 C1045.5,626.6 1055.8,628.6 1057.9,628.5 C1060.0,628.4 1059.2,624.6 1060,625.4 C1060.8,626.2 1063.1,636.4 1064.2,634.8 C1065.3,633.2 1067.0,612.6 1068.3,612.9 C1069.6,613.2 1073.1,640.9 1074.6,636.9 C1076.1,632.9 1079.1,582.4 1080.4,581.7 C1081.7,581.0 1083.8,627.0 1084.6,631.7 C1085.4,636.5 1086.4,619.9 1087.1,619.2 C1087.8,618.5 1088.9,625.2 1090.2,626.5 C1091.5,627.8 1095.9,630.4 1097.5,629.6 C1099.1,628.8 1101.9,620.5 1102.7,620.2 C1103.5,619.9 1103.1,631.1 1103.75,627.5 C1104.4,623.9 1106.4,590.5 1107.9,592 C1109.4,593.5 1113.5,641.1 1115.2,639 C1116.9,636.9 1119.8,580.3 1121,575.4 C1122.2,570.5 1123.9,600.1 1124.6,600.4 C1125.3,600.7 1125.8,575.4 1126.25,577.5 C1126.7,579.6 1127.7,619.5 1128.3,617 C1128.9,614.5 1129.9,556.6 1130.8,557.7 C1131.7,558.8 1134.2,631.1 1135.2,625.4 C1136.2,619.7 1137.9,512.9 1139,512.9 C1140.1,512.9 1142.9,615.4 1144.2,625.4 C1145.5,635.4 1148.4,591.3 1149.2,591.7 C1150.0,592.1 1150.3,625.8 1150.8,628.5 C1151.3,631.2 1152.1,612.8 1152.9,612.9 C1153.7,613.0 1156.2,632.0 1157.1,629.6 C1158.0,627.2 1159.6,597.4 1160.2,594.2 C1160.8,591.0 1161.1,606.4 1161.7,604.6 C1162.3,602.8 1164.1,580.4 1165,579.6 C1165.9,578.8 1167.9,600.0 1168.5,598.3 C1169.1,596.6 1169.3,566.7 1169.6,566 C1169.9,565.3 1170.3,593.5 1171,593.1 C1171.7,592.7 1174.1,562.5 1175.2,562.9 C1176.3,563.3 1179.1,592.9 1180,596.25 C1180.9,599.6 1181.1,584.6 1182.1,589 C1183.1,593.4 1186.5,628.4 1187.9,630.6 C1189.3,632.8 1192.1,607.4 1193.5,606.7 C1194.9,606.0 1197.0,632.4 1198.75,625.4 C1200.5,618.4 1205.3,551.9 1207.1,551.5 C1208.9,551.1 1212.3,617.2 1213.3,622.3 C1214.3,627.4 1214.2,592.9 1215,592 C1215.8,591.1 1218.8,614.5 1219.6,615 C1220.4,615.5 1220.9,596.8 1221.7,596.25 C1222.5,595.7 1224.1,614.6 1225.8,610.8 C1227.5,607.0 1233.7,570.0 1235.2,566 C1236.7,562.0 1236.6,580.0 1237.3,579.6 C1238.0,579.2 1239.3,562.6 1240.4,562.9 C1241.5,563.2 1244.2,584.2 1245.6,581.7 C1247.0,579.2 1249.9,542.6 1251.5,543.1 C1253.1,543.6 1256.9,582.1 1258.1,585.8 C1259.3,589.5 1260.2,567.5 1261.25,572.3 C1262.3,577.0 1265.4,620.3 1266.5,623.3 C1267.6,626.3 1268.7,597.4 1269.6,596.25 C1270.5,595.1 1273.0,614.3 1273.75,614 C1274.5,613.7 1275.0,596.7 1275.8,594.2 C1276.6,591.7 1278.8,590.0 1280,594.2 C1281.2,598.4 1283.4,634.5 1285.2,627.5 C1287.0,620.5 1292.3,541.4 1294,539 C1295.7,536.6 1297.2,607.7 1298.3,608.75 C1299.4,609.8 1301.4,551.5 1302.5,547.3 C1303.6,543.1 1305.9,580.7 1306.7,575.4 C1307.5,570.1 1308.5,508.9 1309.2,505.6 C1309.9,502.3 1311.5,547.3 1312.3,549.4 C1313.1,551.5 1315.0,525.7 1315.4,522.3  L1315.4,639 L969.4,639 Z" fill="url(#rg)"/>
<path d="M969.4,635.8 C969.8,635.5 971.6,633.3 972.5,633.3 C973.4,633.3 975.8,635.7 976.7,635.8 C977.6,635.9 978.7,633.5 979.8,633.75 C980.9,634.0 983.5,637.2 985,637.5 C986.5,637.8 989.1,636.4 991.25,635.8 C993.4,635.2 999.6,634.3 1001.7,632.7 C1003.8,631.1 1005.9,622.8 1007.9,623.3 C1009.9,623.8 1015.6,637.3 1017.3,636.9 C1019.0,636.5 1020.4,620.3 1021.5,620.2 C1022.6,620.1 1024.3,641.3 1025.6,635.8 C1026.9,630.3 1030.1,576.2 1031.5,576.5 C1032.9,576.8 1035.6,631.4 1036.7,637.9 C1037.8,644.4 1039.4,628.9 1040.2,627.5 C1041.0,626.1 1041.1,626.4 1043.3,626.5 C1045.5,626.6 1055.8,628.6 1057.9,628.5 C1060.0,628.4 1059.2,624.6 1060,625.4 C1060.8,626.2 1063.1,636.4 1064.2,634.8 C1065.3,633.2 1067.0,612.6 1068.3,612.9 C1069.6,613.2 1073.1,640.9 1074.6,636.9 C1076.1,632.9 1079.1,582.4 1080.4,581.7 C1081.7,581.0 1083.8,627.0 1084.6,631.7 C1085.4,636.5 1086.4,619.9 1087.1,619.2 C1087.8,618.5 1088.9,625.2 1090.2,626.5 C1091.5,627.8 1095.9,630.4 1097.5,629.6 C1099.1,628.8 1101.9,620.5 1102.7,620.2 C1103.5,619.9 1103.1,631.1 1103.75,627.5 C1104.4,623.9 1106.4,590.5 1107.9,592 C1109.4,593.5 1113.5,641.1 1115.2,639 C1116.9,636.9 1119.8,580.3 1121,575.4 C1122.2,570.5 1123.9,600.1 1124.6,600.4 C1125.3,600.7 1125.8,575.4 1126.25,577.5 C1126.7,579.6 1127.7,619.5 1128.3,617 C1128.9,614.5 1129.9,556.6 1130.8,557.7 C1131.7,558.8 1134.2,631.1 1135.2,625.4 C1136.2,619.7 1137.9,512.9 1139,512.9 C1140.1,512.9 1142.9,615.4 1144.2,625.4 C1145.5,635.4 1148.4,591.3 1149.2,591.7 C1150.0,592.1 1150.3,625.8 1150.8,628.5 C1151.3,631.2 1152.1,612.8 1152.9,612.9 C1153.7,613.0 1156.2,632.0 1157.1,629.6 C1158.0,627.2 1159.6,597.4 1160.2,594.2 C1160.8,591.0 1161.1,606.4 1161.7,604.6 C1162.3,602.8 1164.1,580.4 1165,579.6 C1165.9,578.8 1167.9,600.0 1168.5,598.3 C1169.1,596.6 1169.3,566.7 1169.6,566 C1169.9,565.3 1170.3,593.5 1171,593.1 C1171.7,592.7 1174.1,562.5 1175.2,562.9 C1176.3,563.3 1179.1,592.9 1180,596.25 C1180.9,599.6 1181.1,584.6 1182.1,589 C1183.1,593.4 1186.5,628.4 1187.9,630.6 C1189.3,632.8 1192.1,607.4 1193.5,606.7 C1194.9,606.0 1197.0,632.4 1198.75,625.4 C1200.5,618.4 1205.3,551.9 1207.1,551.5 C1208.9,551.1 1212.3,617.2 1213.3,622.3 C1214.3,627.4 1214.2,592.9 1215,592 C1215.8,591.1 1218.8,614.5 1219.6,615 C1220.4,615.5 1220.9,596.8 1221.7,596.25 C1222.5,595.7 1224.1,614.6 1225.8,610.8 C1227.5,607.0 1233.7,570.0 1235.2,566 C1236.7,562.0 1236.6,580.0 1237.3,579.6 C1238.0,579.2 1239.3,562.6 1240.4,562.9 C1241.5,563.2 1244.2,584.2 1245.6,581.7 C1247.0,579.2 1249.9,542.6 1251.5,543.1 C1253.1,543.6 1256.9,582.1 1258.1,585.8 C1259.3,589.5 1260.2,567.5 1261.25,572.3 C1262.3,577.0 1265.4,620.3 1266.5,623.3 C1267.6,626.3 1268.7,597.4 1269.6,596.25 C1270.5,595.1 1273.0,614.3 1273.75,614 C1274.5,613.7 1275.0,596.7 1275.8,594.2 C1276.6,591.7 1278.8,590.0 1280,594.2 C1281.2,598.4 1283.4,634.5 1285.2,627.5 C1287.0,620.5 1292.3,541.4 1294,539 C1295.7,536.6 1297.2,607.7 1298.3,608.75 C1299.4,609.8 1301.4,551.5 1302.5,547.3 C1303.6,543.1 1305.9,580.7 1306.7,575.4 C1307.5,570.1 1308.5,508.9 1309.2,505.6 C1309.9,502.3 1311.5,547.3 1312.3,549.4 C1313.1,551.5 1315.0,525.7 1315.4,522.3 " fill="none" stroke="#e0484f" stroke-width="3.5" opacity="0.45" filter="url(#rglow)"/>
<path d="M969.4,635.8 C969.8,635.5 971.6,633.3 972.5,633.3 C973.4,633.3 975.8,635.7 976.7,635.8 C977.6,635.9 978.7,633.5 979.8,633.75 C980.9,634.0 983.5,637.2 985,637.5 C986.5,637.8 989.1,636.4 991.25,635.8 C993.4,635.2 999.6,634.3 1001.7,632.7 C1003.8,631.1 1005.9,622.8 1007.9,623.3 C1009.9,623.8 1015.6,637.3 1017.3,636.9 C1019.0,636.5 1020.4,620.3 1021.5,620.2 C1022.6,620.1 1024.3,641.3 1025.6,635.8 C1026.9,630.3 1030.1,576.2 1031.5,576.5 C1032.9,576.8 1035.6,631.4 1036.7,637.9 C1037.8,644.4 1039.4,628.9 1040.2,627.5 C1041.0,626.1 1041.1,626.4 1043.3,626.5 C1045.5,626.6 1055.8,628.6 1057.9,628.5 C1060.0,628.4 1059.2,624.6 1060,625.4 C1060.8,626.2 1063.1,636.4 1064.2,634.8 C1065.3,633.2 1067.0,612.6 1068.3,612.9 C1069.6,613.2 1073.1,640.9 1074.6,636.9 C1076.1,632.9 1079.1,582.4 1080.4,581.7 C1081.7,581.0 1083.8,627.0 1084.6,631.7 C1085.4,636.5 1086.4,619.9 1087.1,619.2 C1087.8,618.5 1088.9,625.2 1090.2,626.5 C1091.5,627.8 1095.9,630.4 1097.5,629.6 C1099.1,628.8 1101.9,620.5 1102.7,620.2 C1103.5,619.9 1103.1,631.1 1103.75,627.5 C1104.4,623.9 1106.4,590.5 1107.9,592 C1109.4,593.5 1113.5,641.1 1115.2,639 C1116.9,636.9 1119.8,580.3 1121,575.4 C1122.2,570.5 1123.9,600.1 1124.6,600.4 C1125.3,600.7 1125.8,575.4 1126.25,577.5 C1126.7,579.6 1127.7,619.5 1128.3,617 C1128.9,614.5 1129.9,556.6 1130.8,557.7 C1131.7,558.8 1134.2,631.1 1135.2,625.4 C1136.2,619.7 1137.9,512.9 1139,512.9 C1140.1,512.9 1142.9,615.4 1144.2,625.4 C1145.5,635.4 1148.4,591.3 1149.2,591.7 C1150.0,592.1 1150.3,625.8 1150.8,628.5 C1151.3,631.2 1152.1,612.8 1152.9,612.9 C1153.7,613.0 1156.2,632.0 1157.1,629.6 C1158.0,627.2 1159.6,597.4 1160.2,594.2 C1160.8,591.0 1161.1,606.4 1161.7,604.6 C1162.3,602.8 1164.1,580.4 1165,579.6 C1165.9,578.8 1167.9,600.0 1168.5,598.3 C1169.1,596.6 1169.3,566.7 1169.6,566 C1169.9,565.3 1170.3,593.5 1171,593.1 C1171.7,592.7 1174.1,562.5 1175.2,562.9 C1176.3,563.3 1179.1,592.9 1180,596.25 C1180.9,599.6 1181.1,584.6 1182.1,589 C1183.1,593.4 1186.5,628.4 1187.9,630.6 C1189.3,632.8 1192.1,607.4 1193.5,606.7 C1194.9,606.0 1197.0,632.4 1198.75,625.4 C1200.5,618.4 1205.3,551.9 1207.1,551.5 C1208.9,551.1 1212.3,617.2 1213.3,622.3 C1214.3,627.4 1214.2,592.9 1215,592 C1215.8,591.1 1218.8,614.5 1219.6,615 C1220.4,615.5 1220.9,596.8 1221.7,596.25 C1222.5,595.7 1224.1,614.6 1225.8,610.8 C1227.5,607.0 1233.7,570.0 1235.2,566 C1236.7,562.0 1236.6,580.0 1237.3,579.6 C1238.0,579.2 1239.3,562.6 1240.4,562.9 C1241.5,563.2 1244.2,584.2 1245.6,581.7 C1247.0,579.2 1249.9,542.6 1251.5,543.1 C1253.1,543.6 1256.9,582.1 1258.1,585.8 C1259.3,589.5 1260.2,567.5 1261.25,572.3 C1262.3,577.0 1265.4,620.3 1266.5,623.3 C1267.6,626.3 1268.7,597.4 1269.6,596.25 C1270.5,595.1 1273.0,614.3 1273.75,614 C1274.5,613.7 1275.0,596.7 1275.8,594.2 C1276.6,591.7 1278.8,590.0 1280,594.2 C1281.2,598.4 1283.4,634.5 1285.2,627.5 C1287.0,620.5 1292.3,541.4 1294,539 C1295.7,536.6 1297.2,607.7 1298.3,608.75 C1299.4,609.8 1301.4,551.5 1302.5,547.3 C1303.6,543.1 1305.9,580.7 1306.7,575.4 C1307.5,570.1 1308.5,508.9 1309.2,505.6 C1309.9,502.3 1311.5,547.3 1312.3,549.4 C1313.1,551.5 1315.0,525.7 1315.4,522.3 " fill="none" stroke="#f05c5e" stroke-width="1.9" stroke-linejoin="round"/>
<text x="990.2" y="664.3" font-size="12.5" fill="#e0e2e7" text-anchor="middle">20</text>
<text x="1018.5" y="664.3" font-size="12.5" fill="#e0e2e7" text-anchor="middle">41</text>
<text x="1047.2" y="664.3" font-size="12.5" fill="#e0e2e7" text-anchor="middle">3</text>
<text x="1073.9" y="664.3" font-size="12.5" fill="#e0e2e7" text-anchor="middle">10</text>
<text x="1103.8" y="664.3" font-size="12.5" fill="#e0e2e7" text-anchor="middle">20</text>
<text x="1130.8" y="664.3" font-size="12.5" fill="#e0e2e7" text-anchor="middle">4</text>
<text x="1159.5" y="664.3" font-size="12.5" fill="#e0e2e7" text-anchor="middle">6</text>
<text x="1187" y="664.3" font-size="12.5" fill="#e0e2e7" text-anchor="middle">6</text>
<text x="1214.8" y="664.3" font-size="12.5" fill="#e0e2e7" text-anchor="middle">6</text>
<text x="1243.6" y="664.3" font-size="12.5" fill="#e0e2e7" text-anchor="middle">30</text>
<text x="1272.3" y="664.3" font-size="12.5" fill="#e0e2e7" text-anchor="middle">9</text>
<text x="1301" y="664.3" font-size="12.5" fill="#e0e2e7" text-anchor="middle">50</text>
<circle cx="1115" cy="672.5" r="3" fill="#e5535a"/>
<text x="1123.8" y="677.5" font-size="14.5" font-weight="normal" fill="#dde0e5" text-anchor="start" textLength="61.5" lengthAdjust="spacingAndGlyphs" >Guardrails</text>
</svg></div></body></html>
